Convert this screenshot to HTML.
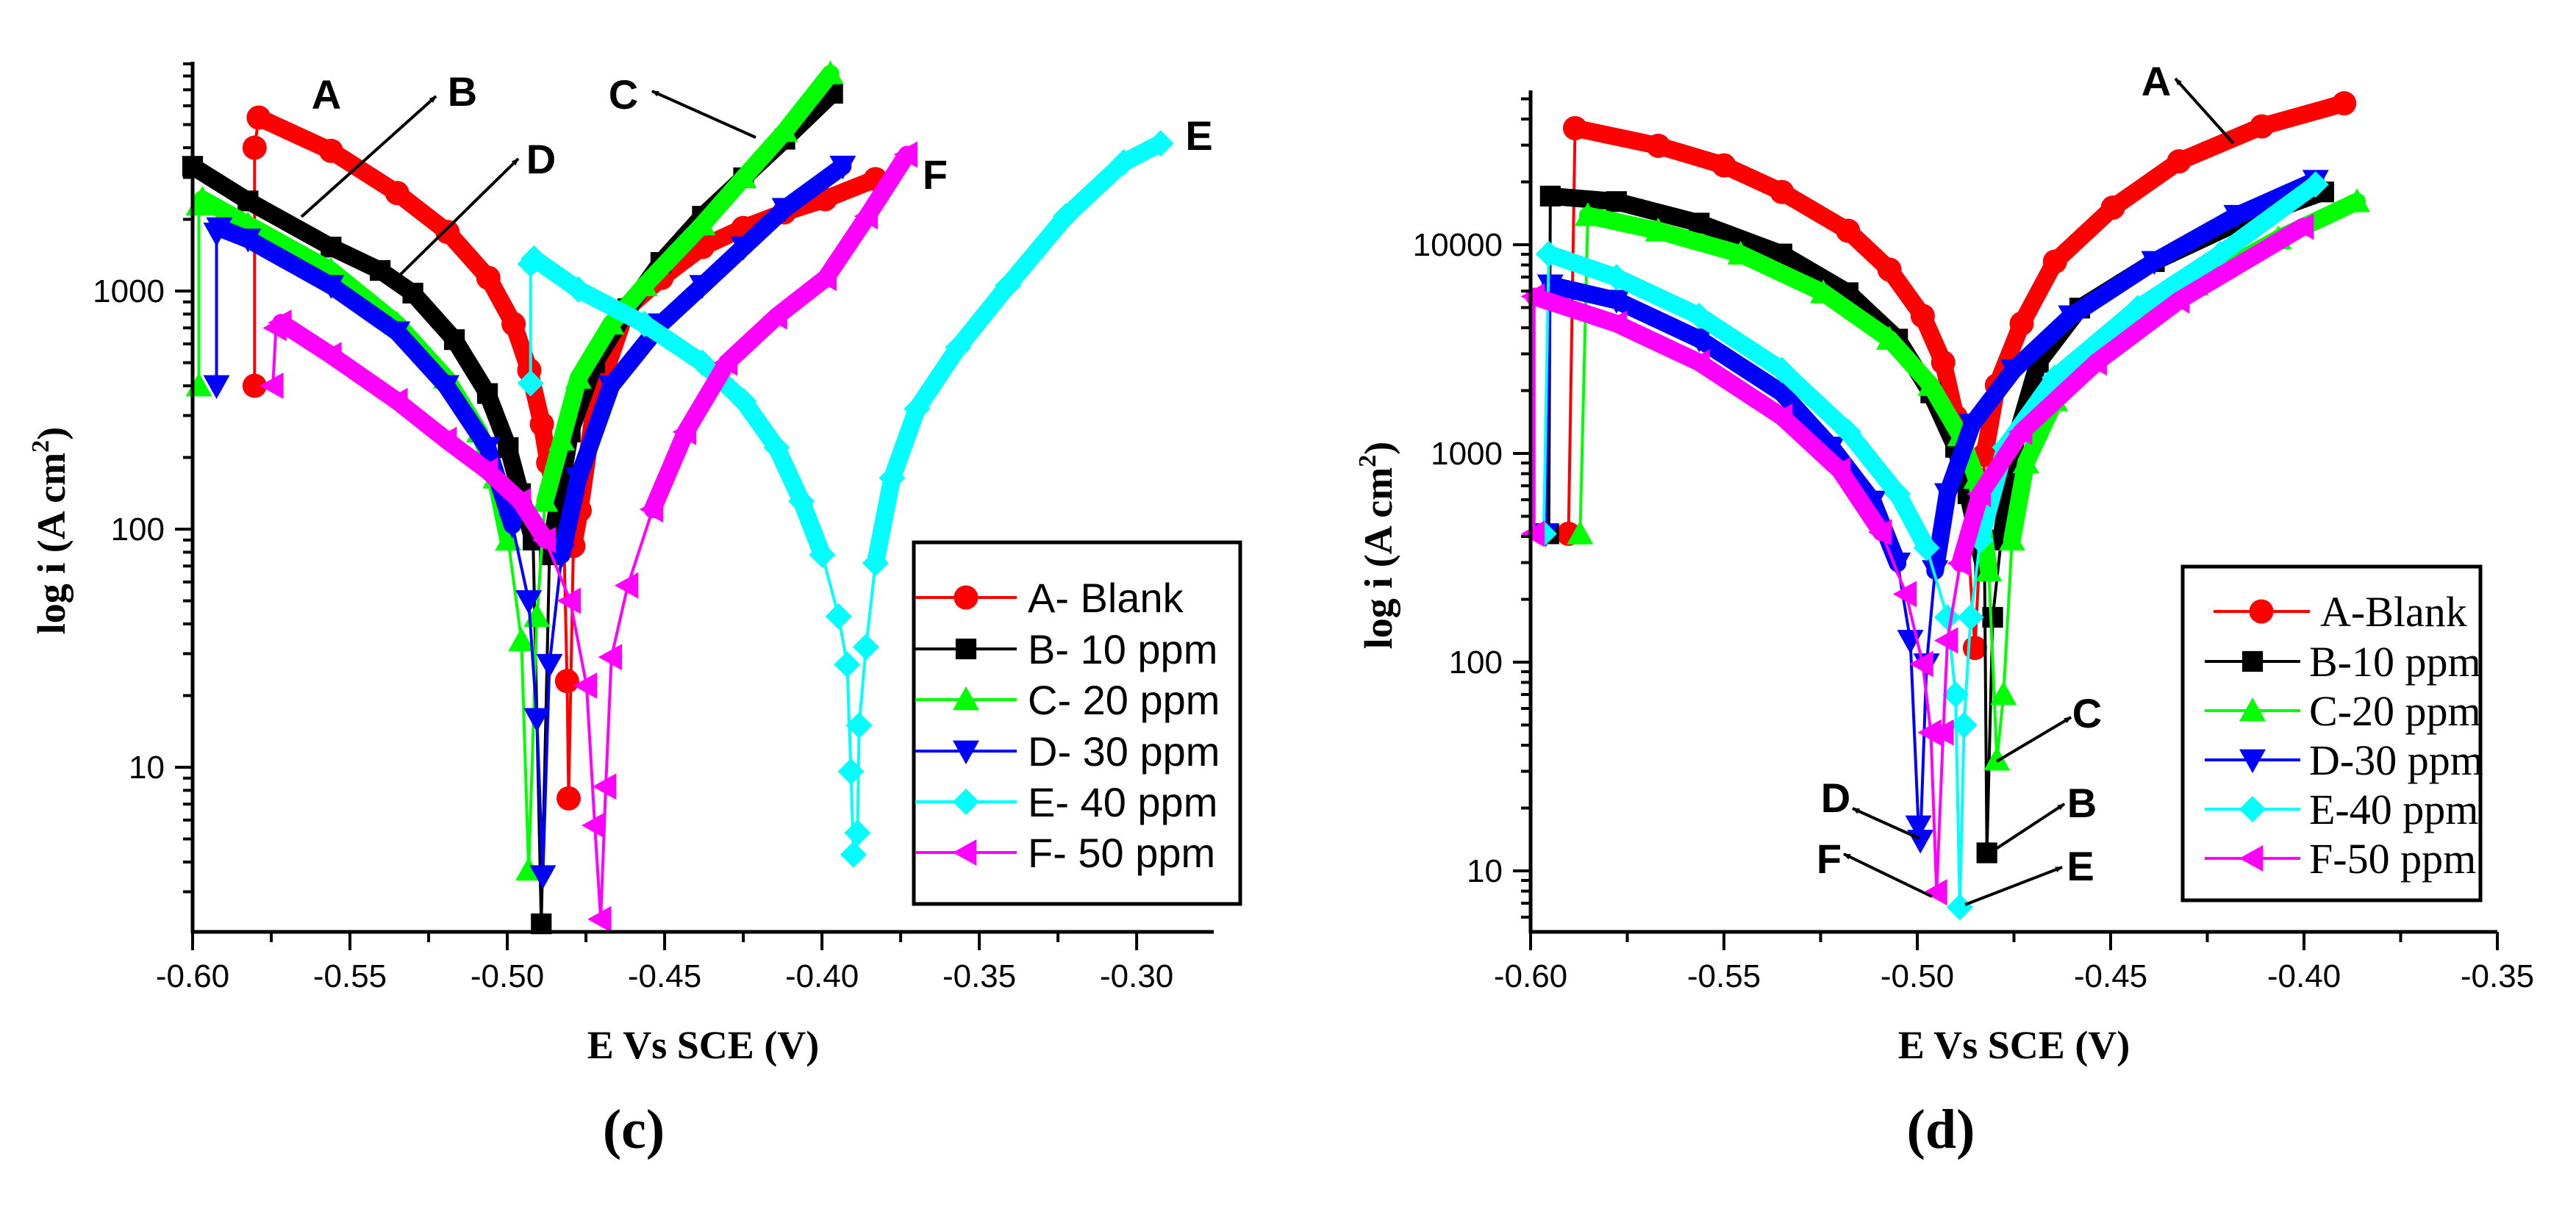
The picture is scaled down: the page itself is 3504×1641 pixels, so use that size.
<!DOCTYPE html>
<html><head><meta charset="utf-8"><style>
html,body{margin:0;padding:0;background:#fff;}
svg{display:block;}
.tk{font-family:"Liberation Sans",sans-serif;font-size:44px;fill:#000;}
.ttl{font-family:"Liberation Serif",serif;font-weight:bold;font-size:54px;fill:#000;}
.pl{font-family:"Liberation Serif",serif;font-weight:bold;font-size:76px;fill:#000;}
.ann{font-family:"Liberation Sans",sans-serif;font-weight:bold;font-size:56px;fill:#000;}
.lgs{font-family:"Liberation Sans",sans-serif;font-size:56px;fill:#000;}
.lgr{font-family:"Liberation Serif",serif;font-size:58px;fill:#000;}
</style></head><body>
<svg id="fig" width="3504" height="1641" viewBox="0 0 3504 1641" xmlns="http://www.w3.org/2000/svg">
<defs><marker id="ah" markerWidth="10" markerHeight="8" refX="9" refY="4" orient="auto" markerUnits="userSpaceOnUse" viewBox="0 0 10 8"><path d="M0,0 L10,4 L0,8 z" fill="#000"/></marker></defs>
</svg>
<script>
const seriesNames = ['A','B','C','D','E','F'];
const seriesColors = ['#ff0000','#000000','#00ff00','#0000ff','#00ffff','#ff00ff'];
const seriesMarkers = ['circle','square','up','down','diamond','left'];
const legendC = ['A- Blank','B- 10 ppm','C- 20 ppm','D- 30 ppm','E- 40 ppm','F- 50 ppm'];
const legendD = ['A-Blank','B-10 ppm','C-20 ppm','D-30 ppm','E-40 ppm','F-50 ppm'];
const xTicksC = [-0.60,-0.55,-0.50,-0.45,-0.40,-0.35,-0.30];
const xTickLabelsC = ['-0.60','-0.55','-0.50','-0.45','-0.40','-0.35','-0.30'];
const yTicksC = [10,100,1000];
const yTickLabelsC = ['10','100','1000'];
const xTicksD = [-0.60,-0.55,-0.50,-0.45,-0.40,-0.35];
const xTickLabelsD = ['-0.60','-0.55','-0.50','-0.45','-0.40','-0.35'];
const yTicksD = [10,100,1000,10000];
const yTickLabelsD = ['10','100','1000','10000'];

const cA = [[-0.5803,400],[-0.5803,4000],[-0.579,5350],[-0.556,3880],[-0.535,2580],[-0.519,1770],[-0.506,1135],[-0.498,727],[-0.493,465],[-0.489,276],[-0.487,190],[-0.484,131],[-0.482,90],[-0.481,23],[-0.4805,7.4],[-0.479,85],[-0.477,120],[-0.472,345],[-0.462,843],[-0.451,1135],[-0.438,1530],[-0.425,1840],[-0.412,2140],[-0.399,2430],[-0.383,2950]];
const cB = [[-0.60,3340],[-0.5824,2390],[-0.556,1530],[-0.5404,1220],[-0.53,980],[-0.5168,625],[-0.5063,371],[-0.4997,220],[-0.4958,141],[-0.4918,90],[-0.4892,2.2],[-0.4866,78],[-0.48,256],[-0.4722,500],[-0.4617,843],[-0.4512,1318],[-0.438,2060],[-0.4249,2990],[-0.4118,4340],[-0.3966,6770]];
const cC = [[-0.598,400],[-0.598,2300],[-0.5969,2430],[-0.5824,1900],[-0.556,1220],[-0.535,727],[-0.5194,431],[-0.5089,256],[-0.5037,164],[-0.4997,90],[-0.4955,34],[-0.4932,3.7],[-0.4906,43],[-0.488,131],[-0.4827,237],[-0.4774,431],[-0.467,727],[-0.4564,1054],[-0.438,1900],[-0.4249,2990],[-0.4118,4680],[-0.3973,8180]];
const cD = [[-0.5924,400],[-0.5924,1750],[-0.5915,1840],[-0.5824,1650],[-0.556,1054],[-0.535,673],[-0.5194,400],[-0.5063,220],[-0.4984,104],[-0.4932,50],[-0.4906,16],[-0.4887,3.5],[-0.4866,27],[-0.4827,78],[-0.4774,164],[-0.467,400],[-0.4512,727],[-0.438,1054],[-0.4249,1530],[-0.4118,2220],[-0.3934,3340]];
const cE = [[-0.4926,410],[-0.4926,1300],[-0.4915,1370],[-0.4774,1015],[-0.4564,727],[-0.438,500],[-0.4249,345],[-0.4144,220],[-0.4065,131],[-0.3999,78],[-0.3947,43],[-0.392,27],[-0.3908,9.6],[-0.39,4.3],[-0.3887,5.3],[-0.3882,15],[-0.386,32],[-0.383,72],[-0.3777,164],[-0.3698,320],[-0.3567,580],[-0.3409,1054],[-0.3225,2060],[-0.3041,3470],[-0.2924,4170]];
const cF = [[-0.5745,400],[-0.5735,700],[-0.5719,736],[-0.556,538],[-0.535,345],[-0.5194,237],[-0.5063,176],[-0.4958,131],[-0.4879,90],[-0.48,50],[-0.4748,22],[-0.4722,5.7],[-0.4703,2.3],[-0.4687,8.3],[-0.4669,29],[-0.4617,58],[-0.4538,121],[-0.4433,256],[-0.4302,500],[-0.4144,782],[-0.3987,1135],[-0.3856,2060],[-0.373,3740]];

const dA = [[-0.5902,412],[-0.5885,36200],[-0.567,29800],[-0.55,24000],[-0.535,17900],[-0.5179,11660],[-0.5072,7600],[-0.4986,4560],[-0.4933,2730],[-0.4901,1500],[-0.4879,760],[-0.4851,117],[-0.4826,985],[-0.4794,2120],[-0.473,4190],[-0.4644,8300],[-0.4494,15060],[-0.4323,25100],[-0.4109,36900],[-0.3896,47600]];
const dB = [[-0.5953,412],[-0.5949,17100],[-0.5778,16100],[-0.5564,12700],[-0.535,9030],[-0.5179,5890],[-0.5051,3530],[-0.4965,1950],[-0.4901,1070],[-0.4869,641],[-0.4826,274],[-0.482,12.2],[-0.4805,164],[-0.4783,385],[-0.4751,1070],[-0.4687,2730],[-0.458,4970],[-0.4387,8300],[-0.4174,12700],[-0.3949,17900]];
const dC = [[-0.5872,412],[-0.5852,13800],[-0.567,11660],[-0.5457,9030],[-0.5243,5890],[-0.5072,3530],[-0.4965,2120],[-0.4889,1216],[-0.4847,760],[-0.4815,274],[-0.4794,34],[-0.4777,70],[-0.4755,385],[-0.4719,903],[-0.4644,1790],[-0.4494,3530],[-0.428,6410],[-0.4066,10700],[-0.3863,16100]];
const dD = [[-0.5961,412],[-0.5949,6410],[-0.5778,5410],[-0.5564,3530],[-0.535,1950],[-0.5222,1070],[-0.5115,590],[-0.5051,298],[-0.5018,127],[-0.4997,16.4],[-0.4992,14],[-0.4976,98],[-0.4954,274],[-0.4922,641],[-0.4858,1380],[-0.4751,2510],[-0.4602,4560],[-0.4387,8300],[-0.4174,13800],[-0.397,20300]];
const dE = [[-0.5966,412],[-0.5953,9030],[-0.5778,6980],[-0.5564,4560],[-0.535,2510],[-0.5179,1270],[-0.5051,641],[-0.4976,353],[-0.4922,164],[-0.4901,70],[-0.489,6.7],[-0.4879,50],[-0.4862,164],[-0.4837,385],[-0.4773,1070],[-0.4644,2310],[-0.443,4970],[-0.4216,9030],[-0.397,19450]];
const dF = [[-0.5991,412],[-0.5991,5650],[-0.5778,4190],[-0.5564,2730],[-0.535,1500],[-0.52,830],[-0.5093,419],[-0.5029,212],[-0.4986,98],[-0.4965,46],[-0.495,7.9],[-0.4933,46],[-0.4922,127],[-0.4889,298],[-0.4837,641],[-0.473,1270],[-0.4537,2730],[-0.4323,5410],[-0.4002,12200]];

const svg = document.getElementById('fig');
const NS = 'http://www.w3.org/2000/svg';
function mk(tag, attrs, parent){const e=document.createElementNS(NS,tag);for(const k in attrs)e.setAttribute(k,attrs[k]);(parent||svg).appendChild(e);return e;}

function markerShape(type, x, y, s, color, g){
  let e;
  if(type==='circle'){e=mk('circle',{cx:x,cy:y,r:s*0.55,fill:color},g);}
  else if(type==='square'){e=mk('rect',{x:x-s*0.47,y:y-s*0.47,width:s*0.94,height:s*0.94,fill:color},g);}
  else {
    let p;
    const h=s*0.6;
    if(type==='up')p=[[x,y-h],[x+h,y+h*0.8],[x-h,y+h*0.8]];
    else if(type==='down')p=[[x,y+h],[x+h,y-h*0.8],[x-h,y-h*0.8]];
    else if(type==='diamond')p=[[x,y-h],[x+h,y],[x,y+h],[x-h,y]];
    else p=[[x-h,y],[x+h*0.8,y-h],[x+h*0.8,y+h]];
    e=mk('polygon',{points:p.map(q=>q.join(',')).join(' '),fill:color},g);
  }
  return e;
}

function panel(cfg){
  const xs = v => cfg.x0 + (v - cfg.xmin)/(cfg.xmax-cfg.xmin)*(cfg.x1-cfg.x0);
  const ys = v => cfg.yRef - (Math.log10(v) - cfg.yRefLog)*cfg.dec;
  const g = mk('g',{});
  
  
  cfg.series.forEach((data, si) => {
    const sg = mk('g',{}, g);
    
    
    const col = seriesColors[si];
    const pts = data.map(d => [xs(d[0]), ys(d[1])]);
    mk('polyline',{points:pts.map(p=>p.join(',')).join(' '),fill:'none',stroke:col,'stroke-width':4},sg);
    for(let k=cfg.bandStart[si]; k<data.length-1; k++){
      if(data[k][1] >= cfg.bandMin && data[k+1][1] >= cfg.bandMin){
        mk('line',{x1:pts[k][0],y1:pts[k][1],x2:pts[k+1][0],y2:pts[k+1][1],stroke:col,'stroke-width':24,'stroke-linecap':'round'},sg);
      }
    }
    pts.forEach(p => {
      const m = markerShape(seriesMarkers[si], p[0], p[1], 30, col, sg);
      
      
    });
  });
  const ax = mk('g',{}, g);
  
  
  mk('line',{x1:cfg.x0,y1:cfg.ytop,x2:cfg.x0,y2:cfg.ybot+2,stroke:'#000','stroke-width':5},ax);
  mk('line',{x1:cfg.x0-2,y1:cfg.ybot,x2:cfg.x1,y2:cfg.ybot,stroke:'#000','stroke-width':5},ax);
  cfg.xTicks.forEach((v,i)=>{
    const x = xs(v);
    mk('line',{x1:x,y1:cfg.ybot,x2:x,y2:cfg.ybot+25,stroke:'#000','stroke-width':4},ax);
    const t = mk('text',{x:x,y:cfg.ybot+75,'text-anchor':'middle',class:'tk'},ax);
    t.textContent = cfg.xTickLabels[i];
    
    
    if(i<cfg.xTicks.length-1){
      const xm = xs(v + 0.025);
      mk('line',{x1:xm,y1:cfg.ybot,x2:xm,y2:cfg.ybot+14,stroke:'#000','stroke-width':4},ax);
    }
  });
  if(cfg.xEndMinor){const xm=xs(cfg.xEndMinor);mk('line',{x1:xm,y1:cfg.ybot,x2:xm,y2:cfg.ybot+14,stroke:'#000','stroke-width':4},ax);}
  for(let dexp=-1; dexp<6; dexp++){
    for(let m=1;m<10;m++){
      const v = m*Math.pow(10,dexp);
      const y = ys(v);
      if(y<cfg.ytop-1||y>cfg.ybot+1)continue;
      const major = m===1;
      mk('line',{x1:cfg.x0-(major?24:13),y1:y,x2:cfg.x0,y2:y,stroke:'#000','stroke-width':4},ax);
    }
  }
  cfg.yTicks.forEach((v,i)=>{
    const t = mk('text',{x:cfg.x0-38,y:ys(v)+15,'text-anchor':'end',class:'tk'},ax);
    t.textContent = cfg.yTickLabels[i];
    
    
  });
  const xt = mk('text',{x:(cfg.x0+cfg.x1)/2+cfg.xtOff,y:1440,'text-anchor':'middle',class:'ttl'},g);
  xt.textContent = 'E Vs SCE (V)';
  
  
  const yt = mk('text',{x:0,y:0,'text-anchor':'middle',class:'ttl',transform:`translate(${cfg.ytX},${cfg.ytY}) rotate(-90)`},g);
  yt.innerHTML = 'log i (A cm<tspan dy="-22" font-size="34">2</tspan><tspan dy="22">)</tspan>';
  
  
  const pl = mk('text',{x:cfg.plX,y:1562,'text-anchor':'middle',class:'pl'},g);
  pl.textContent = cfg.plabel;
  
  
  const L = cfg.legend;
  const lg = mk('g',{}, g);
  
  
  mk('rect',{x:L.x,y:L.y,width:L.w,height:L.h,fill:'#fff',stroke:'#000','stroke-width':5},lg);
  cfg.legendLabels.forEach((lab,i)=>{
    const y = L.ey[i];
    const eg = mk('g',{},lg);
    
    
    mk('line',{x1:L.lx0[i],y1:y,x2:L.lx1[i],y2:y,stroke:seriesColors[i],'stroke-width':4},eg);
    markerShape(seriesMarkers[i], L.mx[i], y, 30, seriesColors[i], eg);
    const t = mk('text',{x:L.tx[i],y:y+20,class:L.cls},eg);
    t.textContent = lab;
  });
  cfg.ann.forEach(a=>{
    const t = mk('text',{x:a[1],y:a[2]+20,'text-anchor':'middle',class:'ann'},g);
    t.textContent = a[0];
    
    
    if(a.length>3){
      const l = mk('line',{x1:a[3],y1:a[4],x2:a[5],y2:a[6],stroke:'#000','stroke-width':4,'marker-end':'url(#ah)'},g);
      
      
    }
  });
}

panel({name:'panel-c', x0:262, x1:1651, xmin:-0.60, xmax:-0.2755, ytop:84, ybot:1268,
  yRef:396, yRefLog:3, dec:324, series:[cA,cB,cC,cD,cE,cF], bandStart:[2,0,2,2,2,2], bandMin:60,
  xTicks:xTicksC, xTickLabels:xTickLabelsC, yTicks:yTicksC, yTickLabels:yTickLabelsC,
  xtOff:0, ytX:88, ytY:722, plX:862, plabel:'(c)',
  legendLabels:legendC, legend:{x:1243,y:738,w:444,h:492,ey:[813,883,952,1022,1091,1160],
    lx0:[1245,1245,1245,1245,1245,1245],lx1:[1383,1383,1383,1383,1383,1383],mx:[1314,1314,1314,1314,1314,1314],tx:[1398,1398,1398,1398,1398,1398],cls:'lgs'},
  ann:[['A',444,128],['B',629,124,410,295,593,131],['C',848,128,1028,187,887,124],['D',736,216,539,379,705,216],['E',1631,184],['F',1272,237]]
});
panel({name:'panel-d', x0:2082, x1:3397, xmin:-0.60, xmax:-0.35, ytop:123, ybot:1268,
  yRef:333, yRefLog:4, dec:284, series:[dA,dB,dC,dD,dE,dF], bandStart:[1,1,1,1,1,1], bandMin:250,
  xTicks:xTicksD, xTickLabels:xTickLabelsD, yTicks:yTicksD, yTickLabels:yTickLabelsD,
  xtOff:0, ytX:1893, ytY:742, plX:2640, plabel:'(d)',
  legendLabels:legendD, legend:{x:2969,y:771,w:405,h:454,ey:[832,900,967,1034,1101,1168],
    lx0:[3011,2999,2999,2999,2999,2999],lx1:[3142,3129,3129,3129,3129,3129],mx:[3076,3064,3064,3064,3064,3064],tx:[3156,3141,3141,3141,3141,3141],cls:'lgr'},
  ann:[['A',2933,110,3038,195,2959,107],['C',2839,970,2716,1036,2817,976],['D',2497,1085,2611,1141,2520,1100],['B',2832,1092,2712,1157,2808,1094],['F',2488,1168,2628,1220,2508,1162],['E',2830,1178,2673,1231,2805,1180]]
});
</script>
</body></html>
